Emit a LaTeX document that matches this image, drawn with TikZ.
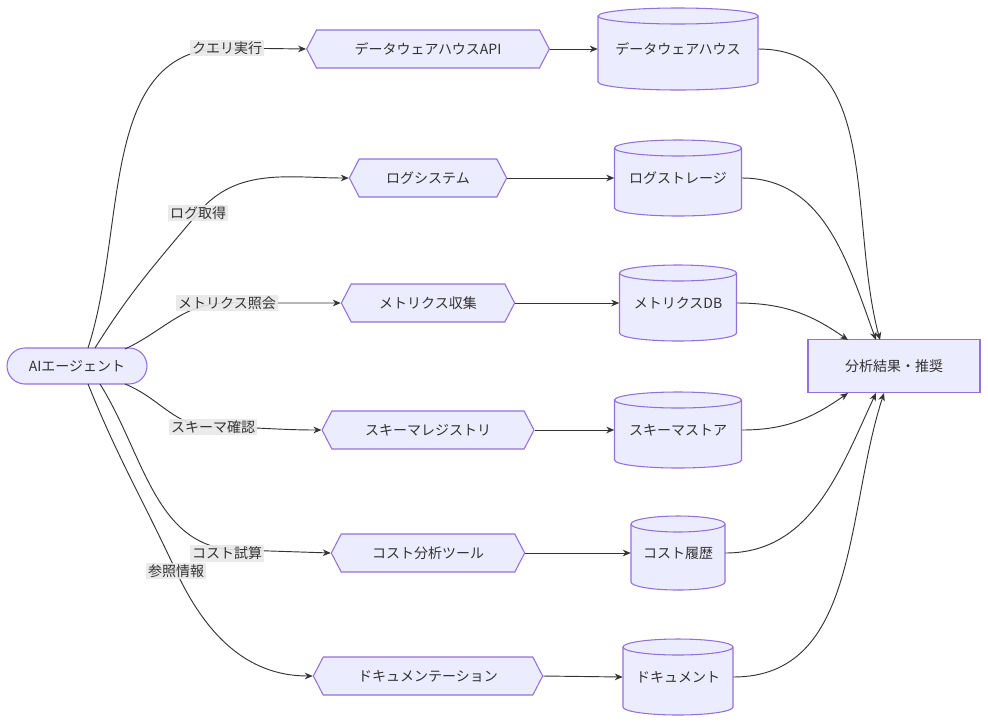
\documentclass[tikz,border=0pt]{standalone}
\usepackage{fontspec}
\setmainfont{Noto Sans CJK JP}
\usetikzlibrary{shapes.symbols,arrows.meta}
\definecolor{nfill}{HTML}{ECECFF}
\definecolor{nline}{HTML}{9370DB}
\definecolor{ink}{HTML}{333333}
\definecolor{lblbg}{HTML}{E8E8E8}
\tikzset{
 hexa/.style={signal, signal to=east and west, signal pointer angle=125, draw=nline, fill=nfill, line width=0.8pt, minimum height=28.5pt, inner sep=0pt, text=ink, font=\fontsize{10.5}{12}\selectfont},
 cylsty/.style={draw=nline, fill=nfill, line width=0.8pt},
 box/.style={draw=nline, fill=nfill, line width=0.8pt, text=ink, font=\fontsize{10.5}{12}\selectfont, inner sep=0pt},
 edge/.style={draw=ink, line width=0.7pt, -{Stealth[length=6pt,width=5pt]}},
 lbl/.style={fill=lblbg, fill opacity=0.9, text opacity=1, text=ink, inner sep=1.5pt, font=\fontsize{10.5}{12}\selectfont}
}
\newcommand\cyl[6]{%
 \filldraw[cylsty] (#2-#4/2,#3-#5/2+8) -- (#2-#4/2,#3+#5/2-8) arc[start angle=180,end angle=360,x radius=#4*0.375pt,y radius=6pt] -- (#2+#4/2,#3-#5/2+8) arc[start angle=0,end angle=180,x radius=#4*0.375pt,y radius=6pt] -- cycle;
 \draw[cylsty] (#2-#4/2,#3-#5/2+8) arc[start angle=180,end angle=360,x radius=#4*0.375pt,y radius=6pt];
 \node[inner sep=0pt, minimum width=#4*0.75pt, minimum height=#5*0.75pt, text=ink, font=\fontsize{10.5}{12}\selectfont] (#1) at (#2,#3) {\raisebox{-3pt}{#6}};}
\begin{document}
\begin{tikzpicture}[x=0.75pt,y=-0.75pt]
\useasboundingbox (0,0) rectangle (988,722);
\node[box, rounded corners=13.5pt, minimum width=105pt, minimum height=27pt] (ai) at (77,366) {AIエージェント};
\node[hexa, minimum width=182pt] (h1) at (428,49) {データウェアハウスAPI};
\node[hexa, minimum width=118pt] (h2) at (428,178) {ログシステム};
\node[hexa, minimum width=130pt] (h3) at (428,303) {メトリクス収集};
\node[hexa, minimum width=159pt] (h4) at (428,430) {スキーマレジストリ};
\node[hexa, minimum width=145pt] (h5) at (428,553) {コスト分析ツール};
\node[hexa, minimum width=172pt] (h6) at (428,676) {ドキュメンテーション};
\cyl{c1}{678}{49}{160}{82}{データウェアハウス}
\cyl{c2}{678}{178}{127}{76}{ログストレージ}
\cyl{c3}{678}{303}{117}{76}{メトリクスDB}
\cyl{c4}{678}{430}{127}{76}{スキーマストア}
\cyl{c5}{678}{553}{94}{74}{コスト履歴}
\cyl{c6}{678}{677}{110}{76}{ドキュメント}
\node[box, minimum width=129pt, minimum height=40pt] (res) at (894,366) {分析結果・推奨};
\coordinate (l1) at (227,48);
\coordinate (l2) at (198,213);
\coordinate (l3) at (227,303);
\coordinate (l4) at (213,427);
\coordinate (l5) at (240,550);
\coordinate (l6) at (176,571);
\draw[edge] (88,348) to[out=72,in=180] (l1) -- (h1.west);
\draw[edge] (95,348) to[out=58,in=230] (l2) to[out=50,in=180] (h2.west);
\draw[edge] (125,349) to[out=25,in=180] (l3) -- (h3.west);
\draw[edge] (125,384) to[out=-22,in=180] (l4) to[out=0,in=180] (h4.west);
\draw[edge] (100,384) to[out=-58,in=180] (l5) -- (h5.west);
\draw[edge] (88,384) to[out=-68,in=115] (l6) to[out=-65,in=180] (h6.west);
\foreach \i in {1,...,6} \draw[edge] (h\i.east) -- (c\i.west);
\draw[edge] (c1.east) to[out=0,in=105] (880,340);
\draw[edge] (c2.east) to[out=0,in=110] (876,340);
\draw[edge] (c3.east) to[out=0,in=145] (848,340);
\draw[edge] (c4.east) to[out=0,in=215] (848,393);
\draw[edge] (c5.east) to[out=0,in=245] (876,393);
\draw[edge] (c6.east) to[out=0,in=252] (884,393);
\node[lbl] at (227,48) {クエリ実行};
\node[lbl] at (198,213) {ログ取得};
\node[lbl] at (227,303) {メトリクス照会};
\node[lbl] at (213,427) {スキーマ確認};
\node[lbl] at (227,553) {コスト試算};
\node[lbl] at (176,571) {参照情報};
\end{tikzpicture}
\end{document}
